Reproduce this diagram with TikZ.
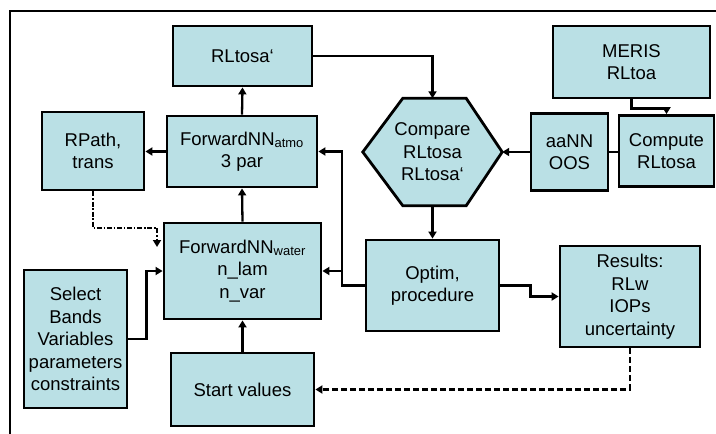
\documentclass[tikz,border=0pt]{standalone}
\usepackage{fontspec}
\setmainfont{Liberation Sans}
\usetikzlibrary{arrows.meta,calc}
\definecolor{boxfill}{RGB}{186,224,229}
\begin{document}
\begin{tikzpicture}[x=1pt,y=-1pt,
  box/.style={draw=black,fill=boxfill,line width=2.8pt,align=center,inner sep=1pt,
    font=\fontsize{18.5}{22.5}\selectfont},
  conn/.style={line width=2.3pt},
  arr/.style={conn,-{Triangle[length=7pt,width=8pt]}},
  dashdot/.style={dash pattern=on 5pt off 1.8pt on 1.5pt off 1.8pt},
  dsh/.style={dash pattern=on 6pt off 3pt}]
\useasboundingbox (0,0) rectangle (716,434);
\draw[line width=2.5pt] (10,434) -- (10,11) -- (716,11);

\node[box,minimum width=139,minimum height=60] (rlp) at (242.5,56) {RLtosa‘};
\node[box,minimum width=102,minimum height=78] (rpath) at (93,151) {RPath,\\trans};
\node[box,minimum width=150,minimum height=71] (atmo) at (242,151.5) {ForwardNN\textsubscript{atmo}\\3 par};
\node[align=center,inner sep=0pt,minimum width=139,minimum height=107,
  font=\fontsize{18.5}{22.5}\selectfont] (cmp) at (432.5,152) {Compare\\RLtosa\\RLtosa‘};
\draw[line width=2.8pt,fill=boxfill,line join=miter]
  (cmp.west) -- ($(cmp.north west)+(40,0)$) -- ($(cmp.north east)+(-36,0)$) -- (cmp.east)
  -- ($(cmp.south east)+(-36,0)$) -- ($(cmp.south west)+(40,0)$) -- cycle;
\node[align=center,inner sep=0pt,font=\fontsize{18.5}{22.5}\selectfont] at (cmp.center) {Compare\\RLtosa\\RLtosa‘};
\node[box,minimum width=77,minimum height=77] (aann) at (569.5,152) {aaNN\\OOS};
\node[box,minimum width=95,minimum height=71] (comp) at (666.5,151) {Compute\\RLtosa};
\node[box,minimum width=157,minimum height=72] (meris) at (631.5,62) {MERIS\\RLtoa};
\node[box,minimum width=157,minimum height=96] (water) at (242.5,271) {ForwardNN\textsubscript{water}\\n\_lam\\n\_var};
\node[box,minimum width=103,minimum height=138] (sel) at (75.5,339) {Select\\Bands\\Variables\\parameters\\constraints};
\node[box,minimum width=143,minimum height=73] (start) at (242.5,389.5) {Start values};
\node[box,minimum width=133,minimum height=91] (optim) at (432.5,285.5) {Optim,\\procedure};
\node[box,minimum width=140,minimum height=101] (res) at (630,296.5) {Results:\\RLw\\IOPs\\uncertainty};

\draw[arr] (atmo.north) -- (rlp.south);
\draw[arr] (rlp.east) -| (cmp.north);
\draw[arr] (atmo.west) -- (atmo.west -| rpath.east);
\coordinate (ddc) at (157,228);
\coordinate (dd) at (157,247);
\draw[arr,dashdot] (rpath.south) |- (ddc) -- (dd);
\draw[arr] (water.north) -- (atmo.south);
\draw[arr] (sel.east) -- ++(18,0) |- (water.west);
\draw[arr] (start.north) -- (water.south);
\coordinate (j) at (342,285.5);
\draw[arr] (optim.west) -- (j) |- (atmo.east);
\draw[arr] (j |- water.east) -- (water.east);
\draw[arr] (cmp.south) -- (optim.north);
\draw[arr] (aann.west) -- (aann.west -| cmp.east);
\draw[conn] (aann.east) -- (aann.east -| comp.west);
\draw[arr] (meris.south) -- ++(0,9) -| (comp.north);
\draw[arr] (optim.east) -- ++(30,0) |- (res.west);
\draw[arr,dsh] (res.south) |- (start.east);
\end{tikzpicture}
\end{document}
